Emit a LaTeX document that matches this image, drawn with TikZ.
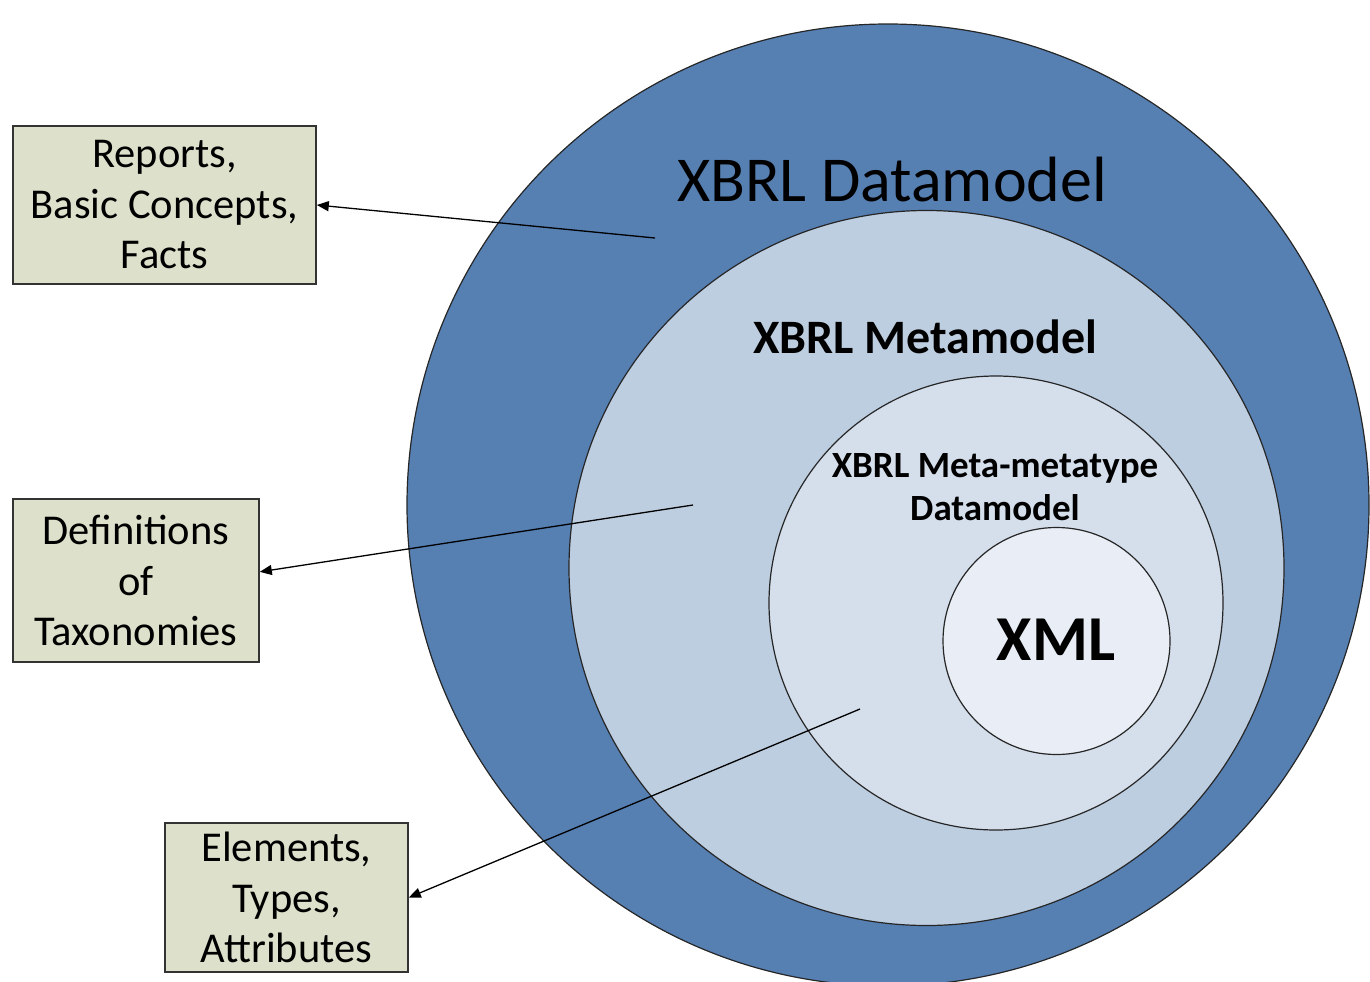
\documentclass[tikz,border=0pt]{standalone}
\usepackage{fontspec}
\setmainfont{Carlito}
\usetikzlibrary{arrows.meta}
\definecolor{ringA}{RGB}{86,127,178}
\definecolor{ringB}{RGB}{190,206,225}
\definecolor{ringC}{RGB}{213,223,236}
\definecolor{ringD}{RGB}{233,238,246}
\definecolor{boxfill}{RGB}{221,225,203}
\begin{document}
\begin{tikzpicture}[x=1pt,y=-1pt,
  ring/.style={draw=black!85,line width=1.2pt},
  infobox/.style={draw=black!80,line width=1.6pt,fill=boxfill,align=center,
    inner sep=0pt,font=\fontsize{42.5}{50.5}\selectfont},
  pointer/.style={line width=1.3pt,-{Triangle[length=12pt,width=10pt]}}]
\useasboundingbox (0,0) rectangle (1370,982);
\clip (0,0) rectangle (1370,982);
% nested circles
\draw[ring,fill=ringA] (888,505) circle (481pt);
\draw[ring,fill=ringB] (926.5,568) circle (357.5pt);
\draw[ring,fill=ringC] (996,603) circle (227pt);
\draw[ring,fill=ringD] (1056.5,641) circle (113.5pt);
\node[anchor=base,font=\fontsize{64}{70}\selectfont] (dm) at (892,201) {XBRL Datamodel};
\node[anchor=base,font=\bfseries\fontsize{48}{55}\selectfont] (mm) at (925,353) {XBRL Metamodel};
\node[anchor=base,align=center,font=\bfseries\fontsize{37}{43}\selectfont] (mmt) at (995,520)
  {XBRL Meta-metatype\\Datamodel};
\node[anchor=base,font=\bfseries\fontsize{64}{70}\selectfont] (xml) at (1056,660) {XML};
% boxes on the left
\node[infobox,minimum width=303pt,minimum height=158pt] (facts) at (164.5,205) {Reports,\\Basic Concepts,\\Facts};
\node[infobox,minimum width=246pt,minimum height=163pt] (taxo) at (136,580.5) {Definitions\\of\\Taxonomies};
\node[infobox,minimum width=243pt,minimum height=149pt] (elems) at (286.5,897.5) {Elements,\\Types,\\Attributes};
% pointers
\coordinate (p1) at (655,238);
\coordinate (p2) at (693,505);
\coordinate (p3) at (860,709);
\draw[pointer] (p1) -- (facts.east);
\draw[pointer] (p2) -- (taxo.4);
\draw[pointer] (p3) -- (elems.east);
\end{tikzpicture}
\end{document}
